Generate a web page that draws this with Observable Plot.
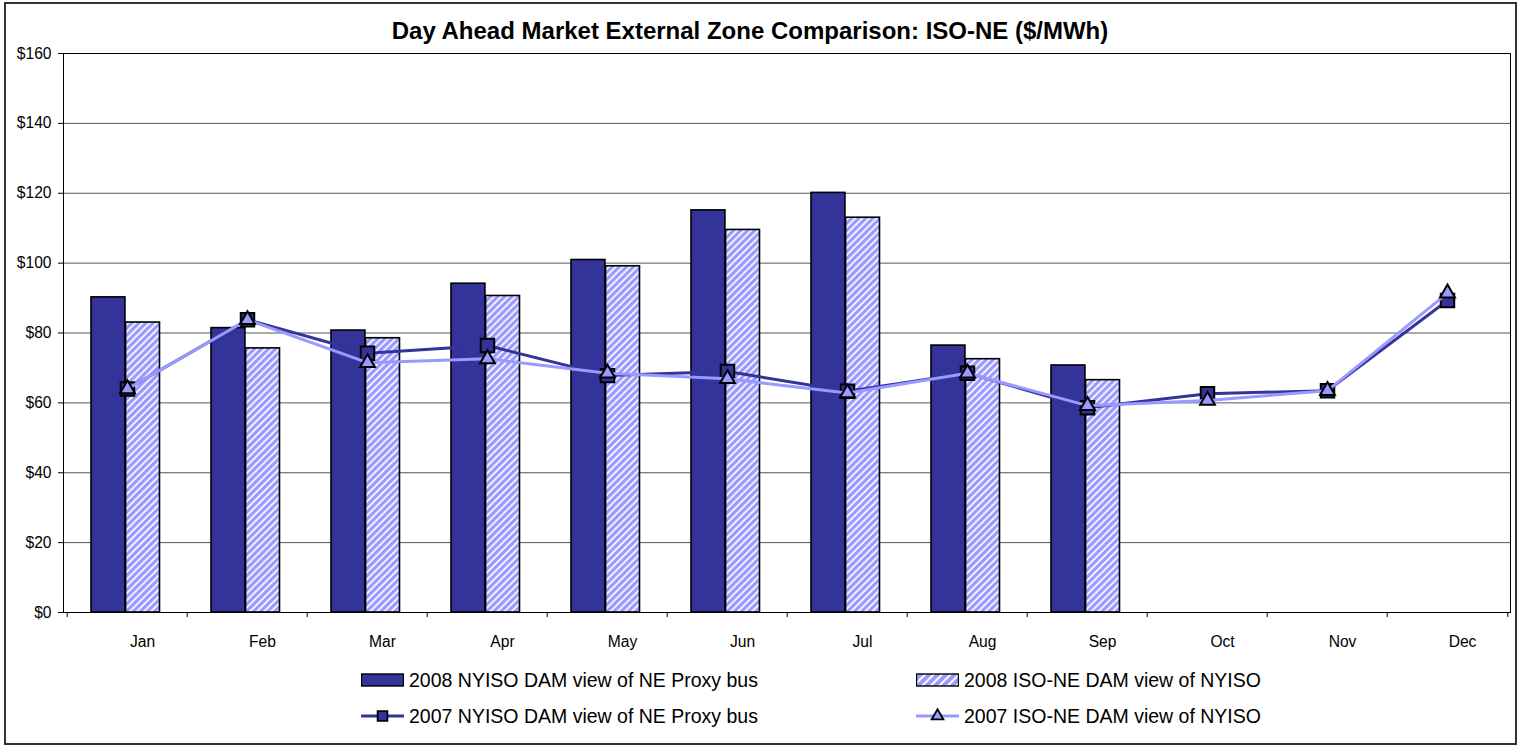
<!DOCTYPE html>
<html><head><meta charset="utf-8">
<script src="https://cdn.jsdelivr.net/npm/d3@7"></script>
<script src="https://cdn.jsdelivr.net/npm/@observablehq/plot@0.6"></script>
<style>
body{margin:0;background:#fff;}
#wrap{position:relative;width:1520px;height:746px;overflow:hidden;font-family:"Liberation Sans",Arial,sans-serif;color:#000;background:#fff;}
#title{position:absolute;left:0;top:17px;width:1500px;text-align:center;font-weight:bold;font-size:24px;line-height:28px;white-space:nowrap;}
#plot{position:absolute;left:0;top:0;}
.item{position:absolute;height:24px;display:flex;align-items:flex-start;font-size:19.5px;line-height:24px;white-space:nowrap;}
.item svg{display:block;margin-right:5px;flex:none;}
#border{position:absolute;left:4px;top:2px;width:1509px;height:739px;border:2px solid #333;pointer-events:none;}
</style></head>
<body>
<div id="wrap">
  <div id="plot"></div>
  <div id="title"></div>
  <div id="legend"></div>
  <div id="border"></div>
</div>
<script>
const titleText = "Day Ahead Market External Zone Comparison: ISO-NE ($/MWh)";
const months = ["Jan","Feb","Mar","Apr","May","Jun","Jul","Aug","Sep","Oct","Nov","Dec"];
const yTicks = [0,20,40,60,80,100,120,140,160];
const seriesNames = [
  "2008 NYISO DAM view of NE Proxy bus",
  "2008 ISO-NE DAM view of NYISO",
  "2007 NYISO DAM view of NE Proxy bus",
  "2007 ISO-NE DAM view of NYISO"
];
const nyiso2008 = [90.2, 81.4, 80.7, 94.1, 100.9, 115.1, 120.1, 76.4, 70.7];
const isone2008 = [83.0, 75.6, 78.5, 90.6, 99.1, 109.5, 113.0, 72.5, 66.5];
const nyiso2007 = [64.0, 83.8, 74.2, 76.4, 67.8, 69.0, 63.3, 68.5, 58.6, 62.6, 63.5, 89.3];
const isone2007 = [64.0, 83.8, 71.5, 72.6, 68.5, 66.9, 62.8, 68.5, 59.2, 60.7, 63.5, 91.4];

const dark = "#333399", light = "#9999FF";
document.getElementById("title").textContent = titleText;

const bars08 = nyiso2008.map((v, i) => ({month: months[i], ny: v, ne: isone2008[i]}));
const lines07 = months.map((m, i) => ({month: m, ny: nyiso2007[i], ne: isone2007[i]}));

const W = 1520, H = 660, mL = 63, mR = 10, mT = 53, mB = 48;
const bw = (W - mL - mR) / months.length;
const barW = 34.5;

function patternDefs() {
  const defs = d3.create("svg:defs");
  const p = defs.append("pattern").attr("id", "hatch").attr("patternUnits", "userSpaceOnUse")
    .attr("width", 5).attr("height", 8).attr("patternTransform", "rotate(45)");
  p.append("rect").attr("width", 5).attr("height", 8).attr("fill", "#fff");
  p.append("rect").attr("width", 3.3).attr("height", 8).attr("fill", light);
  const q = defs.append("pattern").attr("id", "hatchL").attr("patternUnits", "userSpaceOnUse")
    .attr("width", 6).attr("height", 8).attr("patternTransform", "rotate(45)");
  q.append("rect").attr("width", 6).attr("height", 8).attr("fill", "#fff");
  q.append("rect").attr("width", 4).attr("height", 8).attr("fill", light);
  return defs.node();
}

const chart = Plot.plot({
  width: W, height: H,
  marginLeft: mL, marginRight: mR, marginTop: mT, marginBottom: mB,
  x: {type: "band", domain: months, padding: 0},
  y: {domain: [0, 160]},
  style: {fontFamily: "'Liberation Sans', Arial, sans-serif", fontSize: "15.6px", background: "transparent", color: "#000", overflow: "visible"},
  marks: [
    patternDefs,
    Plot.ruleY(yTicks.filter(d => d > 0 && d < 160), {stroke: "#555", strokeWidth: 1}),
    Plot.barY(bars08, {x: "month", y: "ny", fill: dark, stroke: "#000", strokeWidth: 1.6,
      insetLeft: 24, insetRight: bw - 24 - barW}),
    Plot.barY(bars08, {x: "month", y: "ne", fill: "url(#hatch)", stroke: "#000", strokeWidth: 1.6,
      insetLeft: bw - 27.5 - barW, insetRight: 27.5}),
    Plot.frame({stroke: "#000", strokeWidth: 1}),
    Plot.axisY({ticks: yTicks, tickSize: 5, tickPadding: 7, tickFormat: d => "$" + d, stroke: "#000", label: null}),
    Plot.axisX({tickSize: 0, tickPadding: 23, dx: 15, label: null}),
    Plot.ruleX(months, {x: d => d, y1: 0, y2: 0, insetBottom: -5, dx: -bw / 2, stroke: "#000"}),
    Plot.ruleX(months.slice(-1), {x: d => d, y1: 0, y2: 0, insetBottom: -5, dx: bw / 2, stroke: "#000"}),
    Plot.line(lines07, {x: "month", y: "ny", stroke: dark, strokeWidth: 3}),
    Plot.dot(lines07, {x: "month", y: "ny", symbol: "square", r: 7.6, fill: dark, stroke: "#000", strokeWidth: 2}),
    Plot.line(lines07, {x: "month", y: "ne", stroke: light, strokeWidth: 3}),
    Plot.dot(lines07, {x: "month", y: "ne", symbol: "triangle", r: 5.5, fill: light, stroke: "#000", strokeWidth: 2})
  ]
});
document.getElementById("plot").appendChild(chart);

// legend
const legend = d3.select("#legend");
const cols = [361, 916], rows = [668, 704];
seriesNames.forEach((name, i) => {
  const item = legend.append("div").attr("class", "item")
    .style("left", cols[i % 2] + "px").style("top", rows[Math.floor(i / 2)] + "px");
  const s = item.append("svg").attr("width", 43).attr("height", 24);
  if (i === 0) s.append("rect").attr("x", 0.5).attr("y", 6).attr("width", 42).attr("height", 12).attr("fill", dark).attr("stroke", "#000").attr("stroke-width", 1.4);
  if (i === 1) s.append("rect").attr("x", 0.5).attr("y", 6).attr("width", 42).attr("height", 12).attr("fill", "url(#hatchL)").attr("stroke", "#000").attr("stroke-width", 1.4);
  if (i >= 2) {
    const c = i === 2 ? dark : light;
    s.append("line").attr("x1", 0).attr("x2", 43).attr("y1", 12).attr("y2", 12).attr("stroke", c).attr("stroke-width", 3);
    const sym = i === 2 ? d3.symbolSquare : d3.symbolTriangle;
    const size = i === 2 ? 95 : 60;
    s.append("path").attr("d", d3.symbol(sym, size)()).attr("transform", "translate(21.5,12)")
      .attr("fill", c).attr("stroke", "#000").attr("stroke-width", 1.8);
  }
  item.append("span").text(name);
});
</script>
</body></html>
